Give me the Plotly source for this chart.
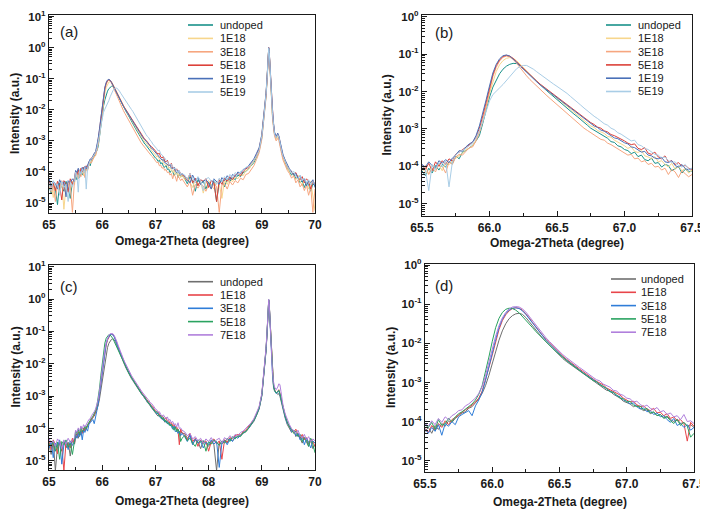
import plotly.graph_objects as go

# omega-2theta positions (degree), shared by every scan
X_GRID = [
    65.00, 65.04, 65.08, 65.12, 65.16, 65.20, 65.24, 65.28, 65.32, 65.36, 65.40, 65.44, 65.48,
    65.500, 65.525, 65.550, 65.575, 65.600, 65.625, 65.650, 65.675, 65.700, 65.725,
    65.750, 65.775, 65.800, 65.825, 65.850, 65.875, 65.900, 65.925, 65.950, 65.975,
    66.000, 66.025, 66.050, 66.075, 66.100, 66.125, 66.150, 66.175, 66.200, 66.225,
    66.250, 66.275, 66.300, 66.325, 66.350, 66.375, 66.400, 66.425, 66.450, 66.475,
    66.500, 66.525, 66.550, 66.575, 66.600, 66.625, 66.650, 66.675, 66.700, 66.725,
    66.750, 66.775, 66.800, 66.825, 66.850, 66.875, 66.900, 66.925, 66.950, 66.975,
    67.000, 67.025, 67.050, 67.075, 67.100, 67.125, 67.150, 67.175, 67.200, 67.225,
    67.250, 67.275, 67.300, 67.325, 67.350, 67.375, 67.400, 67.425, 67.450, 67.475,
    67.500,
    67.55, 67.60, 67.65, 67.70, 67.75, 67.80, 67.85, 67.90, 67.95, 68.00,
    68.05, 68.10, 68.15, 68.20, 68.25, 68.30, 68.35, 68.40, 68.45, 68.50,
    68.55, 68.60, 68.65, 68.70, 68.75, 68.80, 68.85, 68.90, 68.95,
    69.00, 69.03, 69.06, 69.08, 69.10, 69.11, 69.12, 69.13, 69.14, 69.15,
    69.16, 69.18, 69.20, 69.22, 69.24, 69.27, 69.30, 69.32, 69.34, 69.36,
    69.38, 69.40,
    69.44, 69.48, 69.52, 69.56, 69.60, 69.64, 69.68, 69.72, 69.76, 69.80,
    69.84, 69.88, 69.92, 69.96, 70.00,
]

# ---- series of panels (a)/(b): log10 of intensity (a.u.) ----
NAMES_AB = ["undoped", "1E18", "3E18", "5E18", "1E19", "5E19"]
COLORS_AB = ["#19918a", "#f7d68c", "#f6a67f", "#dc4139", "#4a70b8", "#a9cde6"]

undoped_ab = [
    -4.42, -4.71, -4.38, -4.55, -5.05, -4.36, -4.48, -4.62, -4.30, -4.52, -4.85, -4.33, -4.27,
    -4.12, -4.25, -4.05, -4.18, -3.98, -4.10, -3.95, -4.02, -3.88, -3.93,
    -3.72, -3.80, -3.62, -3.58, -3.50, -3.44, -3.32, -3.18, -2.85, -2.50,
    -2.15, -1.88, -1.68, -1.52, -1.40, -1.32, -1.27, -1.245, -1.25, -1.30,
    -1.38, -1.47, -1.56, -1.65, -1.74, -1.82, -1.90, -1.98, -2.06, -2.13,
    -2.20, -2.28, -2.36, -2.44, -2.52, -2.60, -2.67, -2.74, -2.82, -2.90,
    -2.98, -3.03, -3.10, -3.14, -3.20, -3.25, -3.34, -3.36, -3.45, -3.48,
    -3.55, -3.58, -3.66, -3.62, -3.74, -3.70, -3.82, -3.85, -3.78, -3.92,
    -3.90, -4.02, -3.95, -3.98, -4.12, -4.05, -4.00, -4.18, -4.08, -4.15,
    -4.12,
    -4.20, -4.38, -4.15, -4.30, -4.62, -4.25, -4.40, -4.28, -4.55, -4.32,
    -4.45, -4.30, -4.95, -4.35, -4.28, -4.48, -4.22, -4.30, -4.18, -4.25,
    -4.10, -4.15, -4.02, -3.98, -3.90, -3.78, -3.70, -3.52, -3.32,
    -2.90, -2.45, -2.00, -1.55, -1.00, -0.62, -0.22, -0.02, -0.18, -0.58,
    -0.95, -1.65, -2.15, -2.50, -2.80, -2.92, -2.82, -2.90, -3.10, -3.25,
    -3.42, -3.52,
    -3.70, -3.88, -3.98, -4.10, -4.05, -4.22, -4.15, -4.35, -4.28, -4.50,
    -4.32, -4.40, -4.62, -4.38, -4.45,
]
e18_1_ab = [
    -4.55, -4.35, -4.82, -4.40, -4.50, -4.68, -4.32, -5.20, -4.45, -4.38, -4.58, -4.30, -4.40,
    -4.05, -4.15, -4.20, -3.98, -4.08, -3.95, -4.12, -3.90, -3.96, -3.85,
    -3.78, -3.70, -3.65, -3.55, -3.52, -3.45, -3.30, -3.08, -2.78, -2.42,
    -2.05, -1.72, -1.46, -1.28, -1.17, -1.11, -1.09, -1.11, -1.17, -1.26,
    -1.36, -1.46, -1.55, -1.64, -1.73, -1.81, -1.89, -1.96, -2.03, -2.10,
    -2.17, -2.24, -2.32, -2.40, -2.47, -2.55, -2.62, -2.70, -2.77, -2.84,
    -2.92, -2.96, -3.04, -3.08, -3.12, -3.20, -3.22, -3.30, -3.35, -3.38,
    -3.45, -3.52, -3.48, -3.60, -3.63, -3.58, -3.72, -3.75, -3.80, -3.74,
    -3.88, -3.85, -3.95, -4.02, -3.92, -4.08, -4.00, -4.12, -4.05, -4.18,
    -4.10,
    -4.25, -4.18, -4.35, -4.50, -4.22, -4.40, -4.30, -4.68, -4.35, -4.28,
    -4.42, -4.55, -4.30, -4.38, -4.85, -4.25, -4.40, -4.20, -4.32, -4.15,
    -4.22, -4.08, -4.12, -3.95, -3.92, -3.80, -3.65, -3.50, -3.30,
    -2.88, -2.42, -1.98, -1.52, -0.98, -0.60, -0.20, -0.01, -0.17, -0.56,
    -0.93, -1.62, -2.20, -2.52, -2.78, -2.95, -2.85, -2.92, -3.12, -3.28,
    -3.40, -3.55,
    -3.75, -3.85, -4.02, -3.98, -4.15, -4.25, -4.10, -4.30, -4.45, -4.25,
    -4.38, -4.55, -4.30, -4.85, -5.25,
]
e18_3_ab = [
    -4.30, -4.65, -4.40, -4.95, -4.35, -4.50, -4.28, -4.45, -4.72, -4.32, -4.40, -5.30, -4.25,
    -4.10, -3.98, -4.22, -4.05, -4.15, -3.92, -4.00, -4.18, -3.88, -3.95,
    -3.75, -3.68, -3.70, -3.60, -3.50, -3.48, -3.32, -3.10, -2.80, -2.40,
    -1.95, -1.60, -1.35, -1.18, -1.08, -1.05, -1.07, -1.14, -1.24, -1.36,
    -1.48, -1.58, -1.68, -1.77, -1.86, -1.95, -2.03, -2.11, -2.19, -2.27,
    -2.35, -2.44, -2.52, -2.60, -2.68, -2.76, -2.84, -2.91, -2.98, -3.04,
    -3.10, -3.16, -3.20, -3.28, -3.30, -3.38, -3.42, -3.48, -3.52, -3.58,
    -3.65, -3.70, -3.68, -3.80, -3.78, -3.88, -3.85, -3.95, -3.92, -4.02,
    -4.00, -4.10, -4.05, -4.22, -4.08, -4.15, -4.30, -4.12, -4.20, -4.28,
    -4.22,
    -4.35, -4.48, -4.30, -4.75, -4.40, -4.52, -4.38, -4.45, -4.62, -4.40,
    -4.55, -4.35, -4.48, -5.30, -4.42, -4.38, -4.55, -4.30, -4.42, -4.28,
    -4.35, -4.20, -4.25, -4.08, -4.05, -3.92, -3.80, -3.60, -3.38,
    -2.95, -2.50, -2.05, -1.60, -1.05, -0.65, -0.25, -0.04, -0.20, -0.60,
    -0.98, -1.68, -2.22, -2.58, -2.85, -3.00, -2.92, -2.98, -3.18, -3.32,
    -3.48, -3.62,
    -3.82, -3.95, -4.05, -4.20, -4.12, -4.35, -4.25, -4.48, -4.38, -4.60,
    -4.42, -4.75, -4.50, -5.30, -4.55,
]
e18_5_ab = [
    -4.25, -4.50, -4.35, -4.60, -4.30, -4.45, -4.90, -4.28, -4.38, -4.65, -4.22, -4.40, -4.18,
    -3.98, -4.08, -3.92, -4.12, -3.88, -4.00, -3.85, -3.95, -3.80, -3.86,
    -3.68, -3.62, -3.55, -3.50, -3.42, -3.36, -3.22, -2.98, -2.65, -2.28,
    -1.90, -1.55, -1.30, -1.15, -1.06, -1.03, -1.05, -1.11, -1.20, -1.29,
    -1.38, -1.47, -1.56, -1.64, -1.72, -1.80, -1.87, -1.94, -2.01, -2.07,
    -2.13, -2.20, -2.27, -2.34, -2.41, -2.48, -2.55, -2.62, -2.69, -2.76,
    -2.83, -2.88, -2.95, -2.98, -3.05, -3.08, -3.15, -3.18, -3.22, -3.28,
    -3.32, -3.38, -3.42, -3.40, -3.52, -3.55, -3.50, -3.65, -3.68, -3.62,
    -3.75, -3.80, -3.72, -3.88, -3.85, -3.95, -3.90, -4.00, -3.98, -4.05,
    -4.08,
    -4.15, -4.28, -4.05, -4.35, -4.20, -4.45, -4.25, -4.30, -4.22, -4.50,
    -4.28, -4.35, -4.95, -4.25, -4.40, -4.20, -4.30, -4.15, -4.25, -4.10,
    -4.05, -4.12, -3.98, -3.90, -3.85, -3.72, -3.62, -3.45, -3.25,
    -2.82, -2.38, -1.92, -1.48, -0.95, -0.58, -0.18, 0.00, -0.15, -0.52,
    -0.90, -1.55, -1.95, -2.45, -2.75, -2.88, -2.78, -2.86, -3.05, -3.20,
    -3.35, -3.48,
    -3.65, -3.80, -3.92, -4.00, -4.08, -4.02, -4.18, -4.25, -4.15, -4.35,
    -4.22, -4.30, -4.55, -4.28, -4.40,
]
e19_1_ab = [
    -4.20, -4.45, -4.30, -4.38, -4.55, -4.25, -4.40, -4.32, -4.80, -4.28, -4.35, -4.22, -4.30,
    -3.95, -4.02, -3.88, -3.98, -4.05, -3.85, -3.92, -3.82, -3.90, -3.78,
    -3.70, -3.58, -3.60, -3.48, -3.40, -3.35, -3.18, -2.92, -2.60, -2.22,
    -1.85, -1.50, -1.27, -1.12, -1.04, -1.02, -1.05, -1.12, -1.21, -1.31,
    -1.40, -1.49, -1.58, -1.66, -1.74, -1.82, -1.89, -1.96, -2.03, -2.10,
    -2.16, -2.23, -2.30, -2.37, -2.44, -2.51, -2.58, -2.65, -2.72, -2.79,
    -2.85, -2.92, -2.96, -3.03, -3.06, -3.12, -3.16, -3.24, -3.26, -3.32,
    -3.37, -3.40, -3.48, -3.50, -3.55, -3.62, -3.60, -3.70, -3.72, -3.78,
    -3.80, -3.76, -3.88, -3.90, -3.85, -3.98, -4.02, -3.95, -4.06, -4.10,
    -4.05,
    -4.12, -4.22, -4.35, -4.10, -4.28, -4.18, -4.40, -4.30, -4.25, -4.35,
    -4.55, -4.22, -4.30, -4.40, -4.18, -4.28, -4.12, -4.25, -4.08, -4.15,
    -4.00, -4.05, -3.92, -3.88, -3.80, -3.70, -3.58, -3.40, -3.22,
    -2.80, -2.35, -1.90, -1.45, -0.92, -0.55, -0.16, 0.00, -0.14, -0.50,
    -0.88, -1.52, -1.98, -2.42, -2.72, -2.85, -2.75, -2.84, -3.02, -3.18,
    -3.32, -3.45,
    -3.62, -3.78, -3.90, -3.98, -4.10, -4.05, -4.20, -4.12, -4.30, -4.22,
    -4.45, -4.28, -4.35, -4.25, -4.50,
]
e19_5_ab = [
    -4.35, -4.60, -4.28, -4.45, -4.38, -4.75, -4.30, -4.50, -4.40, -4.95, -4.32, -4.48, -4.25,
    -4.00, -4.10, -4.65, -3.95, -4.08, -3.90, -4.02, -3.85, -4.55, -3.88,
    -3.70, -3.62, -3.58, -3.52, -3.45, -3.38, -3.25, -3.05, -2.80, -2.52,
    -2.25, -2.08, -1.98, -1.90, -1.81, -1.70, -1.58, -1.47, -1.39, -1.33,
    -1.30, -1.30, -1.34, -1.40, -1.47, -1.54, -1.61, -1.68, -1.74, -1.80,
    -1.86, -1.92, -1.99, -2.05, -2.13, -2.20, -2.28, -2.36, -2.44, -2.52,
    -2.60, -2.66, -2.72, -2.80, -2.86, -2.90, -2.98, -3.02, -3.10, -3.14,
    -3.20, -3.25, -3.32, -3.30, -3.42, -3.45, -3.52, -3.55, -3.62, -3.68,
    -3.70, -3.78, -3.75, -3.85, -3.90, -3.88, -3.98, -4.02, -3.95, -4.08,
    -4.05,
    -4.10, -4.25, -4.05, -4.20, -4.35, -4.15, -4.28, -4.60, -4.22, -4.18,
    -4.30, -4.25, -4.40, -4.20, -4.32, -4.15, -4.25, -4.08, -4.18, -4.02,
    -4.10, -3.98, -3.95, -3.85, -3.82, -3.75, -3.62, -3.48, -3.30,
    -2.85, -2.40, -1.95, -1.50, -0.98, -0.60, -0.20, -0.02, -0.16, -0.55,
    -0.92, -1.60, -2.10, -2.48, -2.78, -2.90, -2.80, -2.88, -3.08, -3.22,
    -3.38, -3.50,
    -3.68, -3.82, -3.92, -4.05, -3.98, -4.15, -4.22, -4.10, -4.28, -4.20,
    -4.35, -4.25, -4.42, -4.30, -4.38,
]

# ---- series of panels (c)/(d): log10 of intensity (a.u.) ----
NAMES_CD = ["undoped", "1E18", "3E18", "5E18", "7E18"]
COLORS_CD = ["#6f6f6f", "#e8454a", "#2f7dd8", "#2aa360", "#b07fdc"]

undoped_cd = [
    -4.50, -4.80, -4.40, -5.30, -4.55, -4.45, -4.70, -4.38, -4.60, -4.42, -4.85, -4.35, -4.48,
    -4.25, -4.15, -4.30, -4.10, -4.20, -4.05, -4.12, -3.98, -4.02, -3.92,
    -3.85, -3.78, -3.75, -3.66, -3.62, -3.52, -3.42, -3.28, -3.08, -2.82,
    -2.55, -2.22, -1.92, -1.68, -1.50, -1.37, -1.29, -1.245, -1.23, -1.26,
    -1.34, -1.45, -1.56, -1.67, -1.77, -1.87, -1.96, -2.05, -2.14, -2.23,
    -2.32, -2.39, -2.46, -2.52, -2.59, -2.65, -2.71, -2.77, -2.83, -2.90,
    -2.96, -3.00, -3.08, -3.12, -3.20, -3.22, -3.30, -3.35, -3.40, -3.48,
    -3.52, -3.55, -3.62, -3.58, -3.66, -3.72, -3.70, -3.80, -3.76, -3.85,
    -3.82, -3.90, -3.86, -3.95, -4.00, -3.94, -4.05, -4.02, -4.12, -4.08,
    -4.15,
    -4.15, -4.30, -4.22, -4.48, -4.35, -4.40, -4.62, -4.38, -4.45, -4.55,
    -4.40, -4.50, -5.30, -4.42, -4.48, -4.35, -4.45, -4.30, -4.38, -4.28,
    -4.25, -4.22, -4.15, -4.10, -4.00, -3.90, -3.78, -3.60, -3.40,
    -3.00, -2.55, -2.05, -1.60, -1.05, -0.65, -0.25, -0.05, -0.20, -0.58,
    -0.95, -1.70, -2.35, -2.72, -2.85, -2.88, -2.95, -2.92, -3.00, -3.15,
    -3.30, -3.42,
    -3.68, -3.88, -3.98, -4.12, -4.05, -4.25, -4.15, -4.32, -4.45, -4.28,
    -4.40, -4.55, -4.35, -4.62, -4.50,
]
e18_1_cd = [
    -4.40, -4.65, -4.35, -4.50, -4.78, -4.38, -4.55, -5.30, -4.42, -4.48, -4.60, -4.30, -4.45,
    -4.18, -4.28, -4.10, -4.22, -4.05, -4.15, -3.98, -4.08, -3.95, -3.90,
    -3.82, -3.76, -3.70, -3.65, -3.58, -3.50, -3.40, -3.22, -2.95, -2.62,
    -2.30, -1.95, -1.65, -1.42, -1.27, -1.17, -1.11, -1.09, -1.10, -1.15,
    -1.24, -1.35, -1.47, -1.59, -1.70, -1.80, -1.90, -1.99, -2.08, -2.17,
    -2.26, -2.33, -2.40, -2.47, -2.54, -2.60, -2.66, -2.72, -2.79, -2.85,
    -2.91, -2.97, -3.02, -3.06, -3.14, -3.18, -3.24, -3.28, -3.32, -3.40,
    -3.44, -3.50, -3.48, -3.57, -3.62, -3.60, -3.68, -3.72, -3.66, -3.78,
    -3.76, -3.85, -3.80, -3.92, -3.88, -3.98, -3.95, -4.05, -4.50, -4.02,
    -4.12,
    -4.20, -4.35, -4.15, -4.40, -4.30, -4.55, -4.35, -4.45, -4.38, -4.70,
    -4.40, -4.32, -4.48, -4.38, -4.95, -4.35, -4.42, -4.28, -4.32, -4.22,
    -4.18, -4.20, -4.10, -4.05, -3.95, -3.85, -3.72, -3.55, -3.35,
    -2.95, -2.50, -2.00, -1.55, -1.00, -0.62, -0.22, -0.03, -0.18, -0.55,
    -0.92, -1.68, -2.30, -2.65, -2.80, -2.90, -2.85, -2.80, -2.90, -3.05,
    -3.22, -3.38,
    -3.60, -3.82, -3.95, -4.05, -4.12, -4.02, -4.20, -4.30, -4.18, -4.35,
    -4.28, -4.48, -4.32, -4.40, -4.55,
]
e18_3_cd = [
    -4.60, -4.40, -4.90, -4.45, -4.55, -4.35, -5.10, -4.50, -4.40, -4.65, -4.38, -4.52, -4.42,
    -4.20, -4.30, -4.15, -4.25, -4.08, -4.35, -4.05, -4.12, -4.00, -4.08,
    -3.88, -3.82, -3.78, -3.72, -3.85, -3.60, -3.45, -3.25, -2.95, -2.58,
    -2.25, -1.90, -1.60, -1.38, -1.24, -1.15, -1.10, -1.09, -1.11, -1.17,
    -1.26, -1.37, -1.49, -1.61, -1.72, -1.82, -1.92, -2.01, -2.10, -2.19,
    -2.28, -2.35, -2.42, -2.49, -2.56, -2.62, -2.68, -2.75, -2.81, -2.87,
    -2.94, -3.00, -3.04, -3.12, -3.16, -3.22, -3.26, -3.34, -3.36, -3.45,
    -3.48, -3.55, -3.52, -3.62, -3.68, -3.65, -3.75, -3.72, -3.82, -3.78,
    -3.88, -3.85, -3.95, -4.02, -3.92, -4.10, -4.05, -4.15, -4.08, -4.22,
    -4.15,
    -4.25, -4.40, -4.20, -4.50, -4.32, -4.45, -4.38, -4.60, -4.42, -4.50,
    -4.35, -4.48, -4.40, -5.20, -4.45, -4.38, -4.50, -4.32, -4.40, -4.25,
    -4.30, -4.20, -4.15, -4.08, -4.00, -3.88, -3.75, -3.58, -3.38,
    -2.98, -2.52, -2.02, -1.58, -1.02, -0.64, -0.24, -0.04, -0.19, -0.57,
    -0.94, -1.70, -2.32, -2.68, -2.82, -2.92, -2.88, -2.84, -2.94, -3.10,
    -3.25, -3.40,
    -3.65, -3.85, -3.92, -4.10, -4.05, -4.22, -4.15, -4.35, -4.25, -4.50,
    -4.30, -4.42, -4.60, -4.38, -4.45,
]
e18_5_cd = [
    -4.45, -4.55, -4.38, -4.70, -4.42, -4.95, -4.40, -4.50, -4.35, -4.58, -4.45, -4.80, -4.38,
    -4.08, -4.15, -4.02, -4.20, -3.95, -4.10, -4.05, -3.92, -4.00, -3.88,
    -3.80, -3.75, -3.68, -3.62, -3.55, -3.45, -3.30, -3.08, -2.75, -2.35,
    -1.95, -1.60, -1.36, -1.21, -1.13, -1.10, -1.11, -1.15, -1.22, -1.31,
    -1.40, -1.50, -1.60, -1.70, -1.79, -1.88, -1.97, -2.05, -2.13, -2.21,
    -2.29, -2.36, -2.43, -2.50, -2.57, -2.63, -2.70, -2.76, -2.82, -2.88,
    -2.95, -2.98, -3.06, -3.10, -3.15, -3.24, -3.25, -3.32, -3.40, -3.42,
    -3.50, -3.48, -3.58, -3.62, -3.60, -3.70, -3.66, -3.78, -3.75, -3.85,
    -3.82, -3.92, -3.88, -3.98, -4.05, -3.95, -4.10, -4.02, -4.12, -4.40,
    -4.30,
    -4.22, -4.38, -4.30, -4.45, -4.55, -4.35, -4.42, -4.38, -4.70, -4.40,
    -4.48, -4.35, -4.42, -4.52, -4.38, -4.45, -4.30, -4.40, -4.25, -4.32,
    -4.22, -4.25, -4.12, -4.10, -3.98, -3.88, -3.75, -3.58, -3.36,
    -2.96, -2.48, -1.98, -1.54, -0.98, -0.60, -0.20, -0.02, -0.17, -0.54,
    -0.91, -1.66, -2.28, -2.66, -2.82, -2.90, -2.86, -2.82, -2.92, -3.08,
    -3.24, -3.38,
    -3.62, -3.80, -3.95, -4.02, -4.15, -4.08, -4.25, -4.18, -4.40, -4.28,
    -4.35, -4.55, -4.30, -4.48, -4.75,
]
e18_7_cd = [
    -4.30, -4.45, -4.38, -4.55, -4.32, -4.40, -4.62, -4.35, -4.48, -4.30, -4.42, -4.38, -4.28,
    -4.05, -4.12, -3.98, -4.08, -3.92, -4.02, -3.88, -3.95, -3.85, -3.80,
    -3.72, -3.70, -3.60, -3.55, -3.48, -3.40, -3.28, -3.10, -2.82, -2.48,
    -2.15, -1.82, -1.55, -1.35, -1.21, -1.12, -1.07, -1.06, -1.07, -1.12,
    -1.20, -1.31, -1.43, -1.55, -1.66, -1.76, -1.86, -1.95, -2.04, -2.13,
    -2.22, -2.29, -2.36, -2.43, -2.50, -2.56, -2.62, -2.68, -2.75, -2.81,
    -2.87, -2.93, -2.96, -3.04, -3.08, -3.12, -3.20, -3.22, -3.30, -3.33,
    -3.40, -3.42, -3.50, -3.48, -3.56, -3.62, -3.58, -3.66, -3.70, -3.64,
    -3.75, -3.72, -3.82, -3.78, -3.88, -3.85, -3.95, -3.82, -4.00, -3.98,
    -4.05,
    -4.10, -4.22, -4.15, -4.32, -4.25, -4.38, -4.30, -4.45, -4.32, -4.40,
    -4.28, -4.42, -4.35, -4.30, -4.45, -4.28, -4.35, -4.22, -4.30, -4.18,
    -4.22, -4.12, -4.08, -4.00, -3.92, -3.82, -3.70, -3.52, -3.32,
    -2.92, -2.45, -1.96, -1.50, -0.96, -0.58, -0.18, -0.01, -0.15, -0.52,
    -0.88, -1.62, -2.22, -2.55, -2.72, -2.80, -2.72, -2.62, -2.64, -2.85,
    -3.10, -3.30,
    -3.55, -3.75, -3.88, -4.00, -4.08, -4.15, -4.05, -4.22, -4.30, -4.18,
    -4.35, -4.25, -4.40, -4.32, -4.38,
]

SERIES_AB = [undoped_ab, e18_1_ab, e18_3_ab, e18_5_ab, e19_1_ab, e19_5_ab]
SERIES_CD = [undoped_cd, e18_1_cd, e18_3_cd, e18_5_cd, e18_7_cd]

for s in SERIES_AB + SERIES_CD:
    assert len(s) == len(X_GRID), len(s)

# the page puts the figure 8 px in from the window's top-left corner,
# so the figure is 8 px smaller and all layout positions below are window pixels
OFF = 8
W, H = 708 - OFF, 510 - OFF
FONT = "Liberation Sans, Arial, sans-serif"
INK = "#1a1a1a"


def fx(px):
    return (px - OFF) / W


def fy(py):
    return 1 - (py - OFF) / H


# panel geometry in window pixels
PANELS = [
    dict(tag="(a)", left=49, right=315, top=15, bottom=213, xr=[65, 70], yr=[-5.32, 1.05],
         dtick=1, mdtick=0.5, fmt="d", exps=range(-5, 2), data="ab",
         leg=(188, 213, 218, 25, 13.4), label=(58, 32), ytx=15, xty=241),
    dict(tag="(b)", left=422, right=692, top=15, bottom=216, xr=[65.5, 67.5], yr=[-5.33, 0.05],
         dtick=0.5, mdtick=0.25, fmt=".1f", exps=range(-5, 1), data="ab",
         leg=(606, 631, 636, 25, 13.3), label=(433, 33), ytx=386, xty=243),
    dict(tag="(c)", left=49, right=315, top=265, bottom=470, xr=[65, 70], yr=[-5.28, 1.05],
         dtick=1, mdtick=0.5, fmt="d", exps=range(-5, 2), data="cd",
         leg=(188, 213, 218, 281.7, 13.3), label=(58, 286), ytx=15, xty=501),
    dict(tag="(d)", left=425, right=694, top=264, bottom=472, xr=[65.5, 67.5], yr=[-5.29, 0.03],
         dtick=0.5, mdtick=0.25, fmt=".1f", exps=range(-5, 1), data="cd",
         leg=(611, 636, 639, 279, 13.3), label=(433, 285), ytx=391, xty=502),
]

fig = go.Figure()
annotations = []
shapes = []
minor_vals = [m * 10.0 ** e for e in range(-7, 2) for m in range(2, 10)]

for i, p in enumerate(PANELS, start=1):
    xa = "x" if i == 1 else "x%d" % i
    ya = "y" if i == 1 else "y%d" % i
    if p["data"] == "ab":
        names, colors, series = NAMES_AB, COLORS_AB, SERIES_AB
    else:
        names, colors, series = NAMES_CD, COLORS_CD, SERIES_CD

    for name, col, vals in zip(names, colors, series):
        fig.add_trace(go.Scatter(
            x=X_GRID, y=[10 ** v for v in vals], mode="lines", name=name,
            line=dict(color=col, width=1), xaxis=xa, yaxis=ya, showlegend=False,
        ))

    axis_common = dict(showline=True, linecolor=INK, linewidth=1.3, mirror=True,
                       ticks="inside", tickcolor=INK, tickwidth=1.2, ticklen=5,
                       showgrid=False, zeroline=False, automargin=False)
    xkey = "xaxis" if i == 1 else "xaxis%d" % i
    ykey = "yaxis" if i == 1 else "yaxis%d" % i
    fig.update_layout({
        xkey: dict(axis_common, domain=[fx(p["left"]), fx(p["right"])], range=p["xr"],
                   anchor=ya, dtick=p["dtick"], tick0=65, tickformat=p["fmt"],
                   tickfont=dict(family=FONT, size=12, color=INK, weight="bold"),
                   minor=dict(dtick=p["mdtick"], tick0=65, ticks="inside", ticklen=3,
                              tickcolor=INK, tickwidth=1)),
        ykey: dict(axis_common, type="log", domain=[fy(p["bottom"]), fy(p["top"])],
                   range=p["yr"], anchor=xa,
                   tickvals=[10.0 ** e for e in p["exps"]],
                   ticktext=["10<sup>%d</sup>" % e for e in p["exps"]],
                   tickfont=dict(family=FONT, size=11.5, color=INK, weight="bold"),
                   minor=dict(tickmode="array", tickvals=minor_vals, ticks="inside",
                              ticklen=2.5, tickcolor=INK, tickwidth=0.8)),
    })

    # panel tag
    annotations.append(dict(x=fx(p["label"][0]), y=fy(p["label"][1]), xref="paper", yref="paper",
                            text=p["tag"], showarrow=False, xanchor="left", yanchor="middle",
                            font=dict(family=FONT, size=15, color=INK)))
    # axis titles
    annotations.append(dict(x=fx((p["left"] + p["right"]) / 2), y=fy(p["xty"]), xref="paper",
                            yref="paper", text="Omega-2Theta (degree)", showarrow=False,
                            xanchor="center", yanchor="middle",
                            font=dict(family=FONT, size=12, color=INK, weight="bold")))
    annotations.append(dict(x=fx(p["ytx"]), y=fy((p["top"] + p["bottom"]) / 2), xref="paper",
                            yref="paper", text="Intensity (a.u.)", showarrow=False, textangle=-90,
                            xanchor="center", yanchor="middle",
                            font=dict(family=FONT, size=12, color=INK, weight="bold")))
    # legend
    lx0, lx1, tx, ly0, dy = p["leg"]
    for k, (name, col) in enumerate(zip(names, colors)):
        yy = ly0 + k * dy
        shapes.append(dict(type="line", xref="paper", yref="paper", x0=fx(lx0), x1=fx(lx1),
                           y0=fy(yy), y1=fy(yy), line=dict(color=col, width=1.6)))
        annotations.append(dict(x=fx(tx), y=fy(yy), xref="paper", yref="paper", text=name,
                                showarrow=False, xanchor="left", yanchor="middle",
                                font=dict(family=FONT, size=11, color=INK)))

fig.update_layout(width=W, height=H, margin=dict(l=0, r=0, t=0, b=0),
                  paper_bgcolor="white", plot_bgcolor="white", showlegend=False,
                  annotations=annotations, shapes=shapes,
                  font=dict(family=FONT, color=INK))

fig.write_html("out.html")
